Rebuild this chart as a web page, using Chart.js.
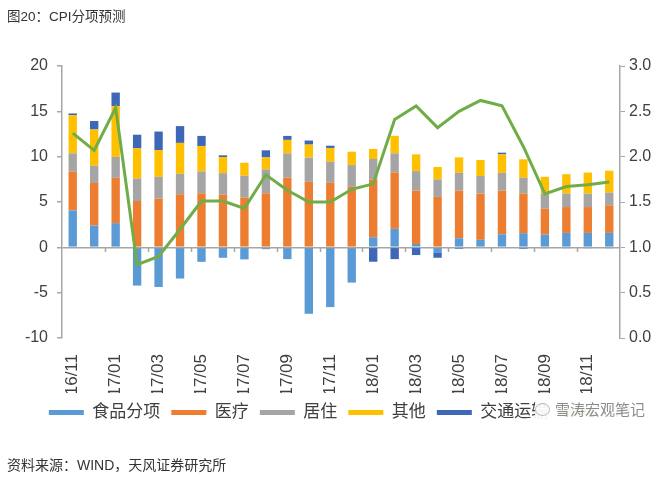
<!DOCTYPE html>
<html>
<head>
<meta charset="utf-8">
<script src="https://cdn.jsdelivr.net/npm/chart.js@4"></script>
<style>
  body { margin: 0; background: #fff; font-family: "Liberation Sans", "Noto Sans CJK SC", sans-serif; }
  #wrap { position: relative; width: 664px; height: 478px; }
  #title { position: absolute; left: 7px; top: 5px; font-size: 13.5px; color: #333; }
  #source { position: absolute; left: 7px; top: 454px; font-size: 14px; color: #333; }
  #mark { position: absolute; left: 535px; top: 397px; width: 129px; height: 26px; background: rgba(255,255,255,0.93);
          font-size: 15px; color: #8c8c8c; line-height: 26px; white-space: nowrap; }
  #mark i { display: inline-block; width: 13px; height: 11px; border: 1px solid #bbb; border-radius: 50%;
            vertical-align: -1px; margin: 0 5px 0 0; }
</style>
</head>
<body>
<div id="wrap">
  <canvas id="chart" width="664" height="478"></canvas>
  <div id="title">图20：CPI分项预测</div>
  <div id="mark"><i></i>雪涛宏观笔记</div>
  <div id="source">资料来源：WIND，天风证券研究所</div>
</div>
<script>
const months = ['16/11','16/12','17/01','17/02','17/03','17/04','17/05','17/06','17/07','17/08','17/09','17/10','17/11',
                '17/12','18/01','18/02','18/03','18/04','18/05','18/06','18/07','18/08','18/09','18/10','18/11','18/12'];

const food      = [4.07, 2.4, 2.67, -4.22, -4.37, -3.44, -1.6, -1.15, -1.33, -0.2, -1.3, -7.33, -6.59,
                   -3.89, 1.11, 2.04, 0.37, -0.55, 1.0, 0.83, 1.44, 1.56, 1.41, 1.59, 1.59, 1.59];
const medical   = [4.3, 4.7, 5.0, 5.11, 5.37, 5.85, 5.96, 5.81, 5.48, 5.96, 7.7, 7.22, 7.11,
                   6.67, 6.37, 6.22, 5.89, 5.56, 5.26, 5.1, 4.81, 4.37, 2.85, 2.85, 2.85, 3.04];
const housing   = [2.0, 1.9, 2.3, 2.48, 2.4, 2.26, 2.41, 2.37, 2.41, 2.63, 2.67, 2.67, 2.33,
                   2.4, 2.26, 2.11, 2.15, 1.93, 1.96, 1.93, 1.96, 1.74, 1.67, 1.48, 1.48, 1.41];
const other     = [4.2, 4.0, 5.6, 3.33, 2.96, 3.41, 2.81, 1.78, 1.44, 1.33, 1.48, 1.44, 1.52,
                   1.48, 1.11, 1.93, 1.85, 1.37, 1.7, 1.78, 2.04, 2.04, 1.85, 2.15, 2.33, 2.41];
const transport = [0.2, 0.93, 1.5, 1.5, 2.04, 1.85, 1.11, 0.19, 0, 0.78, 0.44, 0.45, 0.25,
                   0, -1.59, -1.3, -0.85, -0.6, -0.15, 0, 0.19, -0.15, -0.1, -0.1, -0.1, -0.1];
const cpi       = [2.26, 2.07, 2.54, 0.81, 0.90, 1.20, 1.51, 1.51, 1.43, 1.80, 1.63, 1.50, 1.50,
                   1.64, 1.70, 2.41, 2.56, 2.32, 2.50, 2.62, 2.56, 2.11, 1.59, 1.67, 1.69, 1.72];

const axisGray = '#a6a6a6';
const textGray = '#404040';

function bar(label, data, color) {
  return { type: 'bar', label: label, data: data, backgroundColor: color, borderWidth: 0,
           yAxisID: 'y', order: 1, barPercentage: 0.39, categoryPercentage: 1 };
}

// small tick marks on the zero line, every two months
const zeroTicks = {
  id: 'zeroTicks',
  afterDatasetsDraw(chart) {
    const x = chart.scales.x, y = chart.scales.y, ctx = chart.ctx;
    const half = (x.getPixelForValue(1) - x.getPixelForValue(0)) / 2;
    const y0 = Math.round(y.getPixelForValue(0));
    ctx.save();
    ctx.strokeStyle = axisGray;
    ctx.lineWidth = 1.5;
    for (let i = 2; i < months.length; i += 2) {
      const px = Math.round(x.getPixelForValue(i) - half) + 0.5;
      ctx.beginPath();
      ctx.moveTo(px, y0);
      ctx.lineTo(px, y0 + 5);
      ctx.stroke();
    }
    ctx.restore();
  }
};

new Chart(document.getElementById('chart'), {
  data: {
    labels: months,
    datasets: [
      bar('食品分项', food, '#5b9bd5'),
      bar('医疗', medical, '#ed7d31'),
      bar('居住', housing, '#a5a5a5'),
      bar('其他', other, '#ffc000'),
      bar('交通运输', transport, '#3f67b8'),
      { type: 'line', label: 'CPI', data: cpi, borderColor: '#70ad47', backgroundColor: '#70ad47',
        borderWidth: 3, pointRadius: 0, tension: 0, yAxisID: 'y1', order: 0 }
    ]
  },
  options: {
    responsive: false,
    animation: false,
    layout: { padding: { top: 66, bottom: 47, left: 16, right: 0 } },
    plugins: {
      tooltip: { enabled: false },
      legend: {
        position: 'bottom',
        labels: {
          boxWidth: 35, boxHeight: 5, padding: 11,
          color: textGray,
          font: { size: 17, family: '"Liberation Sans", "Noto Sans CJK SC", sans-serif' },
          sort: (a, b) => a.datasetIndex - b.datasetIndex
        }
      }
    },
    scales: {
      x: {
        stacked: true,
        grid: { display: false },
        border: { display: false },
        ticks: {
          autoSkip: false, maxRotation: 90, minRotation: 90, padding: 8,
          color: textGray,
          font: { size: 17, family: '"Liberation Sans", sans-serif' },
          callback: function (v, i) { return i % 2 === 0 ? this.getLabelForValue(v) : ''; }
        },
        afterFit: s => { s.height = 55; }
      },
      y: {
        stacked: true,
        position: 'left',
        min: -10, max: 20,
        ticks: { stepSize: 5, padding: 9, color: textGray, font: { size: 16, family: '"Liberation Sans", sans-serif' } },
        grid: {
          color: c => c.tick && c.tick.value === 0 ? axisGray : 'transparent',
          tickColor: axisGray, tickLength: 5, lineWidth: 1.5
        },
        border: { display: true, color: axisGray, width: 1.5 },
        afterFit: s => { s.width = 46; }
      },
      y1: {
        position: 'right',
        min: 0, max: 3,
        ticks: { stepSize: 0.5, padding: 4, color: textGray, font: { size: 16, family: '"Liberation Sans", sans-serif' },
                 callback: v => v.toFixed(1) },
        grid: { drawOnChartArea: false, tickColor: axisGray, tickLength: 5 },
        border: { display: true, color: axisGray, width: 1.5 },
        afterFit: s => { s.width = 44; }
      }
    }
  },
  plugins: [zeroTicks]
});
</script>
</body>
</html>
